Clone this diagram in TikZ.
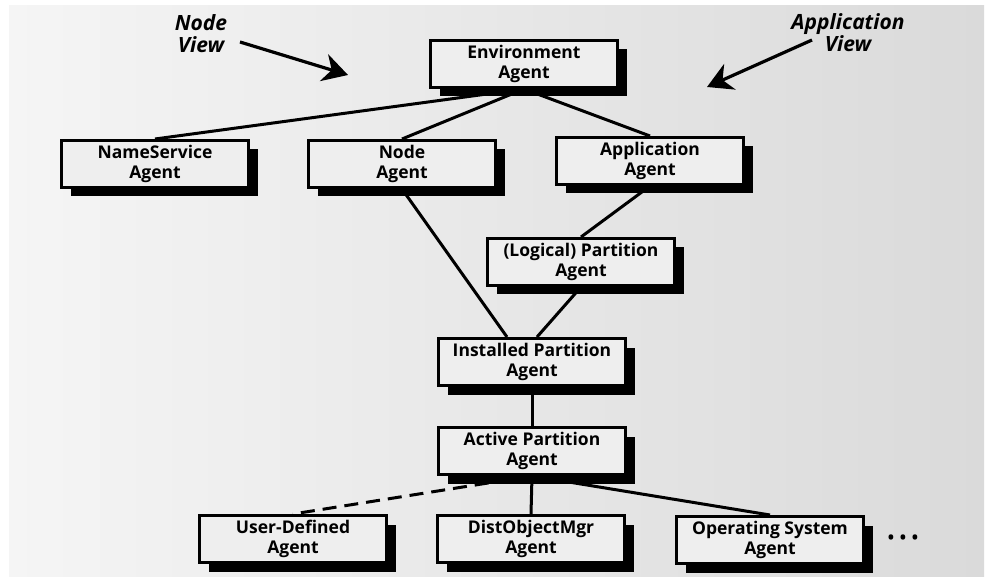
\documentclass[tikz,border=0pt]{standalone}
\usepackage{fontspec}
\setmainfont{Open Sans}
\usetikzlibrary{shadows,arrows.meta,backgrounds}

\definecolor{bgleft}{HTML}{F5F5F5}
\definecolor{bgright}{HTML}{DADADA}
\definecolor{boxfill}{HTML}{EEEEEE}

\tikzset{
  agent/.style={draw, line width=3pt, fill=boxfill, minimum width=187pt,
    minimum height=47pt, inner sep=0pt, align=center,
    font=\fontsize{17.5}{19.5}\selectfont\bfseries,
    drop shadow={shadow xshift=9pt, shadow yshift=-9pt, opacity=1, fill=black}},
  link/.style={line width=3pt},
  viewtext/.style={align=center, font=\fontsize{21}{22}\selectfont\bfseries\itshape},
  viewarrow/.style={line width=3.2pt, -{Stealth[length=25pt, width=28pt, inset=8pt]}}
}

\begin{document}
\begin{tikzpicture}[x=1pt, y=-1pt]

\useasboundingbox (0,0) rectangle (988,577);

% the agents
\node [agent] (Env) at (524,64) {Environment\\Agent};
\node [agent] (NameSrv) at (155,164) {NameService\\Agent};
\node [agent] (NodeAg) at (402,164) {Node\\Agent};
\node [agent] (AppAg) at (650,161) {Application\\Agent};
\node [agent] (LogPart) at (581,262) {(Logical) Partition\\Agent};
\node [agent] (InstPart) at (532,362) {Installed Partition\\Agent};
\node [agent] (ActPart) at (532,451) {Active Partition\\Agent};
\node [agent] (UserDef) at (293,539) {User-Defined\\Agent};
\node [agent] (DistObj) at (531,539) {DistObjectMgr\\Agent};
\node [agent] (OpSys) at (770,540) {Operating System\\Agent};
\node (More) at (903,540) {\fontsize{22}{22}\selectfont\textbullet\,\textbullet\,\textbullet};

% the two views
\node [viewtext] (NodeView) at (201,34) {Node\\View};
\node [viewtext] (AppView) at (848,33) {Application\\View};
\coordinate (NVtail) at (240,42);
\coordinate (NVtip) at (348,75);
\coordinate (AVtail) at (812,40);
\coordinate (AVtip) at (707,87);
\draw [viewarrow] (NVtail) -- (NVtip);
\draw [viewarrow] (AVtail) -- (AVtip);

\begin{scope}[on background layer]
\shade [left color=bgleft, right color=bgright] (9,6) rectangle (984,577);
\draw [link] (Env.south) -- (NameSrv.north);
\draw [link] (Env.south) -- (NodeAg.north);
\draw [link] (Env.south) -- (AppAg.north);
\draw [link] (NodeAg.south) -- ([xshift=-25pt]InstPart.north);
\draw [link] (AppAg.south) -- (LogPart.north);
\draw [link] (LogPart.south) -- ([xshift=5pt]InstPart.north);
\draw [link] (InstPart.south) -- (ActPart.north);
\draw [link, dash pattern=on 14pt off 8pt] (ActPart.south) -- (UserDef.north);
\draw [link] (ActPart.south) -- (DistObj.north);
\draw [link] (ActPart.south) -- (OpSys.north);
\end{scope}
\end{tikzpicture}
\end{document}
